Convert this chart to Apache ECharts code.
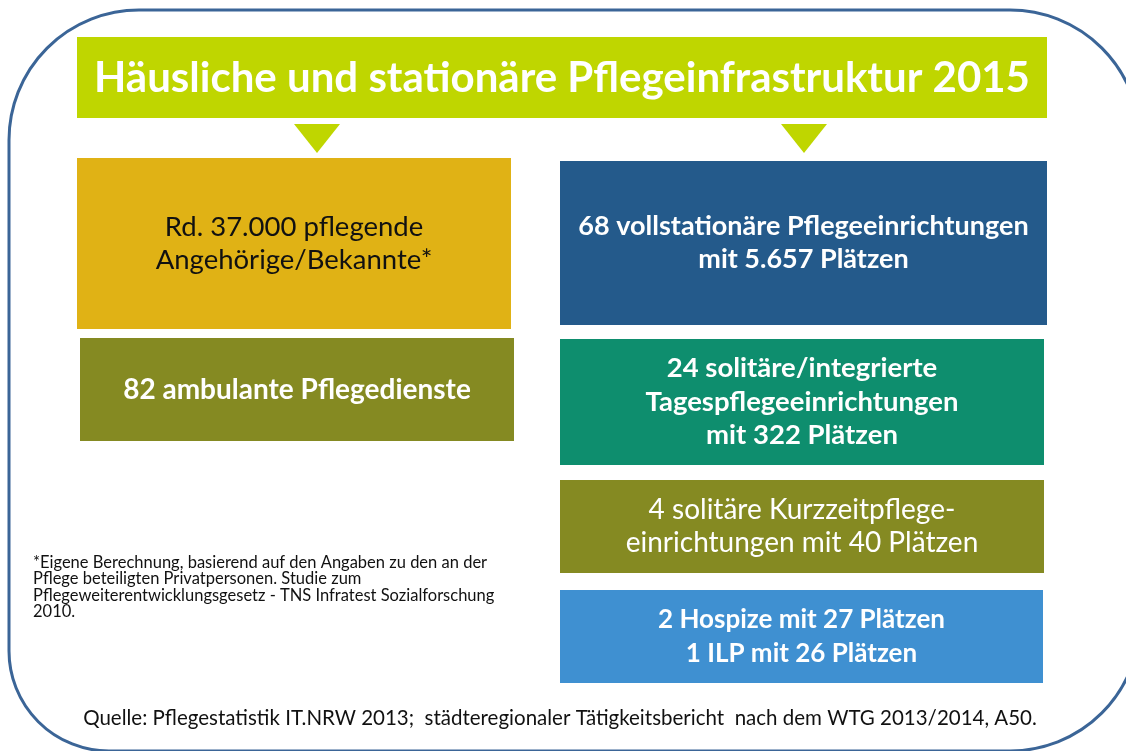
<!DOCTYPE html>
<html>
<head>
<meta charset="utf-8">
<title>Pflegeinfrastruktur 2015</title>
<script src="https://cdn.jsdelivr.net/npm/echarts@6/dist/echarts.min.js"></script>
<style>
    html, body { margin: 0; padding: 0; background: #fff; }
    #chart { width: 1126px; height: 751px; }
</style>
</head>
<body>
<div id="chart"></div>
<script>
// texts of the infographic
const titleText = 'Häusliche und stationäre Pflegeinfrastruktur 2015'
const leftTexts = [
    'Rd. 37.000 pflegende\nAngehörige/Bekannte*',
    '82 ambulante Pflegedienste'
]
const rightTexts = [
    '68 vollstationäre Pflegeeinrichtungen\nmit 5.657 Plätzen',
    '24 solitäre/integrierte\nTagespflegeeinrichtungen\nmit 322 Plätzen',
    '4 solitäre Kurzzeitpflege-\neinrichtungen mit 40 Plätzen',
    '2 Hospize mit 27 Plätzen\n1 ILP mit 26 Plätzen'
]
const footnoteText = '*Eigene Berechnung, basierend auf den Angaben zu den an der\nPflege beteiligten Privatpersonen. Studie zum\nPflegeweiterentwicklungsgesetz - TNS Infratest Sozialforschung\n2010.'
const sourceText = 'Quelle: Pflegestatistik IT.NRW 2013;  städteregionaler Tätigkeitsbericht  nach dem WTG 2013/2014, A50.'

// layout / styles
const FONT = 'Lato, "Open Sans", sans-serif'
const leftBoxes = [
    { x: 77, y: 158, w: 434, h: 171, color: '#e0b215', text: '#111', weight: 'normal', size: 27.5 },
    { x: 80, y: 338, w: 434, h: 103, color: '#858a22', text: '#fff', weight: 'bold', size: 28 }
]
const rightBoxes = [
    { x: 560, y: 161, w: 487, h: 164, color: '#245a8b', text: '#fff', weight: 'bold', size: 27 },
    { x: 560, y: 339, w: 484, h: 126, color: '#0e8e6e', text: '#fff', weight: 'bold', size: 27.5 },
    { x: 560, y: 480, w: 484, h: 93, color: '#858a22', text: '#fff', weight: 'normal', size: 28 },
    { x: 560, y: 590, w: 483, h: 93, color: '#3f90d1', text: '#fff', weight: 'bold', size: 26 }
]

function boxGraphics(boxes, texts) {
    const out = []
    boxes.forEach((b, i) => {
        out.push({
            type: 'rect',
            shape: { x: b.x, y: b.y, width: b.w, height: b.h },
            style: { fill: b.color }
        })
        out.push({
            type: 'text',
            x: b.x + b.w / 2,
            y: b.y + b.h / 2,
            style: {
                text: texts[i],
                fill: b.text,
                font: b.weight + ' ' + b.size + 'px ' + FONT,
                align: 'center',
                verticalAlign: 'middle',
                lineHeight: 33.5
            }
        })
    })
    return out
}

const chart = echarts.init(document.getElementById('chart'))
chart.setOption({
    backgroundColor: '#fff',
    animation: false,
    graphic: [
        // rounded frame
        {
            type: 'rect',
            shape: { x: 9, y: 10, width: 1131, height: 741, r: [130, 130, 130, 100] },
            style: { fill: 'none', stroke: '#3b6597', lineWidth: 3 }
        },
        // title bar
        {
            type: 'rect',
            shape: { x: 77, y: 37, width: 970, height: 81 },
            style: { fill: '#bfd600' }
        },
        {
            type: 'text',
            x: 562,
            y: 78,
            style: {
                text: titleText,
                fill: '#fff',
                font: 'bold 42px ' + FONT,
                align: 'center',
                verticalAlign: 'middle'
            }
        },
        // arrows
        {
            type: 'polygon',
            shape: { points: [[294, 124], [340, 124], [317, 153]] },
            style: { fill: '#bfd600' }
        },
        {
            type: 'polygon',
            shape: { points: [[781, 124], [827, 124], [804, 153]] },
            style: { fill: '#bfd600' }
        },
        ...boxGraphics(leftBoxes, leftTexts),
        ...boxGraphics(rightBoxes, rightTexts),
        // footnote
        {
            type: 'text',
            x: 33,
            y: 554,
            style: {
                text: footnoteText,
                fill: '#111',
                font: '16.5px ' + FONT,
                lineHeight: 16.5
            }
        },
        // source
        {
            type: 'text',
            x: 560,
            y: 718,
            style: {
                text: sourceText,
                fill: '#111',
                font: '20.5px ' + FONT,
                align: 'center',
                verticalAlign: 'middle'
            }
        }
    ]
})
</script>
</body>
</html>
